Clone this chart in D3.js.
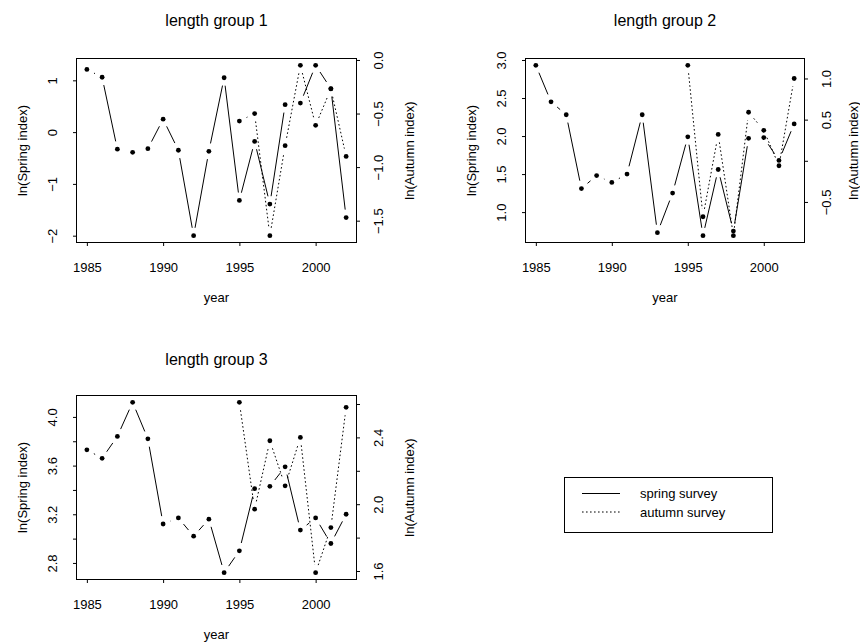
<!DOCTYPE html>
<html>
<head>
<meta charset="utf-8">
<script src="https://cdn.jsdelivr.net/npm/d3@7/dist/d3.min.js"></script>
<style>
  html, body { margin: 0; padding: 0; background: #fff; }
  svg { display: block; font-family: "Liberation Sans", Arial, Helvetica, sans-serif; }
</style>
</head>
<body>
<svg id="chart" width="860" height="644"></svg>
<script>
// Survey years
const years = [1985, 1986, 1987, 1988, 1989, 1990, 1991, 1992, 1993, 1994,
               1995, 1996, 1997, 1998, 1999, 2000, 2001, 2002];
const autumnYears = [1995, 1996, 1997, 1998, 1999, 2000, 2001, 2002];
const yearTicks = [1985, 1990, 1995, 2000];

// ln(index) by length group
const spring1 = [1.21, 1.06, -0.33, -0.39, -0.32, 0.25, -0.35, -2.00, -0.37, 1.05,
                 -1.32, -0.18, -1.39, 0.53, 0.56, 1.29, 0.84, -1.65];
const autumn1 = [-0.57, -0.50, -1.64, -0.80, -0.05, -0.61, -0.27, -0.90];

const spring2 = [2.93, 2.45, 2.28, 1.31, 1.48, 1.39, 1.50, 2.28, 0.73, 1.25,
                 1.99, 0.69, 1.56, 0.75, 1.97, 1.98, 1.68, 2.16];
const autumn2 = [1.16, -0.68, 0.32, -0.91, 0.59, 0.37, -0.06, 1.00];

const spring3 = [3.73, 3.66, 3.84, 4.12, 3.82, 3.12, 3.17, 3.02, 3.16, 2.72,
                 2.90, 3.41, 3.43, 3.59, 3.07, 3.17, 2.96, 3.20];
const autumn3 = [2.61, 1.97, 2.38, 2.11, 2.40, 1.59, 1.86, 2.58];

// Axis ticks and the ones that carry a label
const springTicks1 = [-2, -1, 0, 1];
const springLabels1 = ["−2", "−1", "0", "1"];
const autumnTicks1 = [-1.5, -1.0, -0.5, 0.0];
const autumnLabels1 = ["−1.5", "−1.0", "−0.5", "0.0"];

const springTicks2 = [1.0, 1.5, 2.0, 2.5, 3.0];
const springLabels2 = ["1.0", "1.5", "2.0", "2.5", "3.0"];
const autumnTicks2 = [-0.5, 0.0, 0.5, 1.0];
const autumnLabels2 = ["−0.5", "", "0.5", "1.0"];

const springTicks3 = [2.8, 3.0, 3.2, 3.4, 3.6, 3.8, 4.0];
const springLabels3 = ["2.8", "", "3.2", "", "3.6", "", "4.0"];
const autumnTicks3 = [1.6, 1.8, 2.0, 2.2, 2.4, 2.6];
const autumnLabels3 = ["1.6", "", "2.0", "", "2.4", ""];

const titles = ["length group 1", "length group 2", "length group 3"];
const legendLabels = ["spring survey", "autumn survey"];

// Panel frames (pixel layout)
const frames = [
  { x0: 76.5, x1: 356.5, y0: 58.5, y1: 242.5 },
  { x0: 525.5, x1: 804.5, y0: 58.5, y1: 242.5 },
  { x0: 76.5, x1: 356.5, y0: 395.5, y1: 579.5 }
];

const panels = [
  { title: titles[0], spring: spring1, autumn: autumn1,
    sTicks: springTicks1, sLabels: springLabels1, aTicks: autumnTicks1, aLabels: autumnLabels1,
    frame: frames[0], titleDy: -33 },
  { title: titles[1], spring: spring2, autumn: autumn2,
    sTicks: springTicks2, sLabels: springLabels2, aTicks: autumnTicks2, aLabels: autumnLabels2,
    frame: frames[1], titleDy: -33 },
  { title: titles[2], spring: spring3, autumn: autumn3,
    sTicks: springTicks3, sLabels: springLabels3, aTicks: autumnTicks3, aLabels: autumnLabels3,
    frame: frames[2], titleDy: -31 }
];

const W = 860;
const svg = d3.select("#chart");
const FONT = 13;
const TICK = 3.5;
const GAP = 8;          // blank space left around each point on connecting lines
const DOT_R = 2.4;
const DOTTED = "1.6,2.4";

// Range padded by 4% on each side
function padded(ext) {
  const d = (ext[1] - ext[0]) * 0.04;
  return [ext[0] - d, ext[1] + d];
}

// Lines broken around the points (points-and-lines style)
function gappedSegments(pts) {
  const segs = [];
  for (let i = 1; i < pts.length; i++) {
    const [xa, ya] = pts[i - 1], [xb, yb] = pts[i];
    const len = Math.hypot(xb - xa, yb - ya);
    const f = GAP / len;
    if (f < 0.5) {
      segs.push([xa + f * (xb - xa), ya + f * (yb - ya),
                 xb + f * (xa - xb), yb + f * (ya - yb)]);
    }
  }
  return segs;
}

function drawSeries(g, pts, dash) {
  g.append("g").selectAll("line").data(gappedSegments(pts)).join("line")
    .attr("x1", d => d[0]).attr("y1", d => d[1])
    .attr("x2", d => d[2]).attr("y2", d => d[3])
    .attr("stroke", "#000").attr("stroke-width", 1)
    .attr("stroke-dasharray", dash);
  g.append("g").selectAll("circle").data(pts).join("circle")
    .attr("cx", d => d[0]).attr("cy", d => d[1])
    .attr("r", DOT_R).attr("fill", "#000");
}

panels.forEach(p => {
  const f = p.frame;
  const g = svg.append("g");

  const x = d3.scaleLinear().domain(padded(d3.extent(years))).range([f.x0, f.x1]);
  const yS = d3.scaleLinear().domain(padded(d3.extent(p.spring))).range([f.y1, f.y0]);
  const yA = d3.scaleLinear().domain(padded(d3.extent(p.autumn))).range([f.y1, f.y0]);

  // Title
  g.append("text")
    .attr("x", (f.x0 + f.x1) / 2).attr("y", f.y0 + p.titleDy)
    .attr("text-anchor", "middle").attr("font-size", 16)
    .text(p.title);

  // Bottom axis
  const xAxis = d3.axisBottom(x).tickValues(yearTicks).tickFormat(d3.format("d"))
    .tickSizeInner(TICK).tickSizeOuter(0).tickPadding(17);
  const gx = g.append("g").attr("transform", `translate(0,${f.y1})`).call(xAxis);
  gx.select(".domain").remove();
  gx.selectAll("text").attr("font-size", FONT).attr("font-family", null).attr("fill", "#000");

  // Left axis (spring)
  const yAxisL = d3.axisLeft(yS).tickValues(p.sTicks)
    .tickFormat((d, i) => p.sLabels[i]).tickSizeInner(TICK).tickSizeOuter(0);
  const gl = g.append("g").attr("transform", `translate(${f.x0},0)`).call(yAxisL);
  gl.select(".domain").remove();
  gl.selectAll("text")
    .attr("font-size", FONT).attr("font-family", null).attr("fill", "#000")
    .attr("x", null).attr("dy", null)
    .attr("text-anchor", "middle")
    .attr("transform", "translate(-20,0) rotate(-90)");

  // Right axis (autumn)
  const yAxisR = d3.axisRight(yA).tickValues(p.aTicks)
    .tickFormat((d, i) => p.aLabels[i]).tickSizeInner(TICK).tickSizeOuter(0);
  const gr = g.append("g").attr("transform", `translate(${f.x1},0)`).call(yAxisR);
  gr.select(".domain").remove();
  gr.selectAll("text")
    .attr("font-size", FONT).attr("font-family", null).attr("fill", "#000")
    .attr("x", null).attr("dy", null)
    .attr("text-anchor", "middle")
    .attr("transform", "translate(26,0) rotate(-90)");

  // Axis titles
  g.append("text")
    .attr("x", (f.x0 + f.x1) / 2).attr("y", f.y1 + 59)
    .attr("text-anchor", "middle").attr("font-size", FONT)
    .text("year");
  g.append("text")
    .attr("transform", `translate(${f.x0 - 50},${(f.y0 + f.y1) / 2}) rotate(-90)`)
    .attr("text-anchor", "middle").attr("font-size", FONT)
    .text("ln(Spring index)");
  // keep the right-hand title inside the page
  const rx = Math.min(f.x1 + 57, W - 2);
  g.append("text")
    .attr("transform", `translate(${rx},${(f.y0 + f.y1) / 2}) rotate(-90)`)
    .attr("text-anchor", "middle").attr("font-size", FONT)
    .text("ln(Autumn index)");

  // Series
  const springPts = years.map((yr, i) => [x(yr), yS(p.spring[i])]);
  const autumnPts = autumnYears.map((yr, i) => [x(yr), yA(p.autumn[i])]);
  drawSeries(g, springPts, null);
  drawSeries(g, autumnPts, DOTTED);

  // Frame
  g.append("rect")
    .attr("x", f.x0).attr("y", f.y0)
    .attr("width", f.x1 - f.x0).attr("height", f.y1 - f.y0)
    .attr("fill", "none").attr("stroke", "#000").attr("stroke-width", 1);
});

// Legend
const lg = svg.append("g");
lg.append("rect")
  .attr("x", 564.5).attr("y", 477.5).attr("width", 208).attr("height", 55)
  .attr("fill", "#fff").attr("stroke", "#000").attr("stroke-width", 1);
const legendDash = [null, DOTTED];
legendLabels.forEach((lab, i) => {
  const yy = 493.5 + i * 18.5;
  lg.append("line")
    .attr("x1", 582).attr("x2", 620).attr("y1", yy).attr("y2", yy)
    .attr("stroke", "#000").attr("stroke-width", 1)
    .attr("stroke-dasharray", legendDash[i]);
  lg.append("text")
    .attr("x", 640).attr("y", yy + 4.5)
    .attr("font-size", FONT).text(lab);
});
</script>
</body>
</html>
